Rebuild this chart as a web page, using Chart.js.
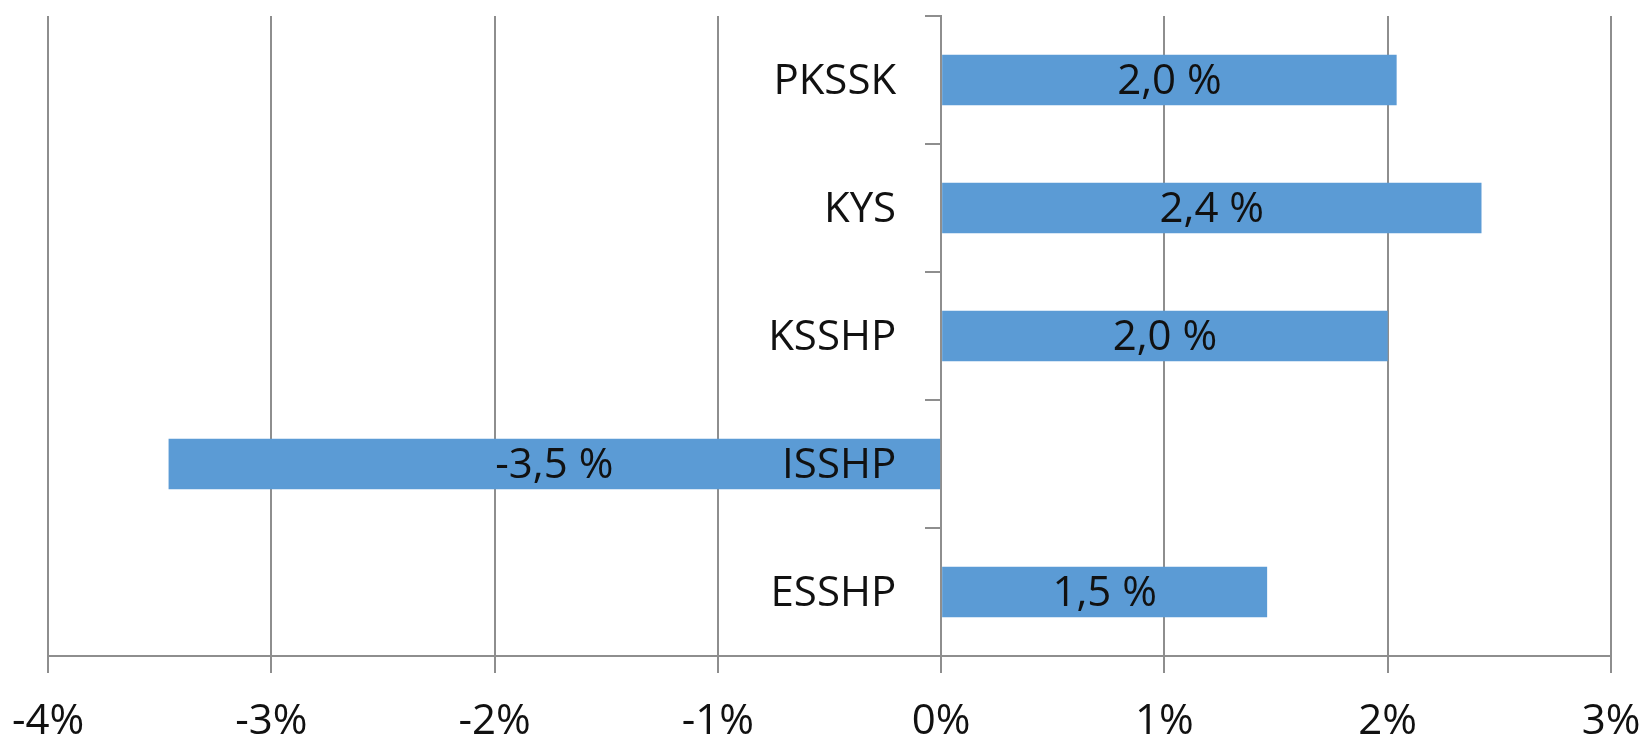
<!DOCTYPE html>
<html>
<head>
<meta charset="utf-8">
<script src="https://cdn.jsdelivr.net/npm/chart.js@4.4.1/dist/chart.umd.min.js"></script>
<style>
  html, body { margin: 0; padding: 0; background: #fff; }
  canvas { display: block; }
</style>
</head>
<body>
<canvas id="chart" width="1649" height="739"></canvas>
<script>
        const categories = ['PKSSK', 'KYS', 'KSSHP', 'ISSHP', 'ESSHP'];
        const values = [2.04, 2.42, 2.0, -3.46, 1.46];
        const xMin = -4;
        const xMax = 3;

        const fontFamily = "'Open Sans', sans-serif";
        const gridColor = '#8e8e8e';

        // category names left of the zero line (drawn over the bars)
        // and value labels in the middle of each bar, like "2,0 %"
        const barLabels = {
            id: 'barLabels',
            afterDatasetsDraw(chart) {
                const ctx = chart.ctx;
                const xScale = chart.scales.x;
                const yScale = chart.scales.y;
                const meta = chart.getDatasetMeta(0);
                const zeroX = xScale.getPixelForValue(0);
                ctx.save();
                ctx.font = '42px ' + fontFamily;
                ctx.fillStyle = '#111';
                ctx.textBaseline = 'middle';

                ctx.textAlign = 'right';
                categories.forEach((name, i) => {
                    ctx.fillText(name, zeroX - 45, yScale.getPixelForTick(i) + 2);
                });

                ctx.textAlign = 'center';
                meta.data.forEach((bar, i) => {
                    const text = values[i].toFixed(1).replace('.', ',') + ' %';
                    const cx = (bar.x + bar.base) / 2;
                    ctx.fillText(text, cx, bar.y + 2);
                });
                ctx.restore();
            }
        };

        const chart = new Chart(document.getElementById('chart'), {
            type: 'bar',
            data: {
                labels: categories,
                datasets: [{
                    data: values,
                    backgroundColor: '#5b9bd5',
                    borderWidth: 0,
                    barPercentage: 0.395,
                    categoryPercentage: 1
                }]
            },
            options: {
                indexAxis: 'y',
                responsive: false,
                animation: false,
                layout: {
                    padding: { left: 48, right: 38, top: 16, bottom: 0 }
                },
                plugins: {
                    legend: { display: false },
                    tooltip: { enabled: false }
                },
                scales: {
                    x: {
                        type: 'linear',
                        min: xMin,
                        max: xMax,
                        z: 0,
                        ticks: {
                            stepSize: 1,
                            padding: 24,
                            color: '#111',
                            font: { family: fontFamily, size: 42 },
                            callback: v => v + '%'
                        },
                        grid: {
                            color: gridColor,
                            lineWidth: 2,
                            tickLength: 17,
                            tickColor: gridColor
                        },
                        border: { color: gridColor, width: 2 },
                        afterFit: s => {
                            s.paddingLeft = 0;
                            s.paddingRight = 0;
                            s.height = 83;
                        }
                    },
                    y: {
                        position: { x: 0 },
                        z: 1,
                        ticks: {
                            color: 'rgba(0,0,0,0)',
                            font: { family: fontFamily, size: 42 }
                        },
                        grid: {
                            drawOnChartArea: false,
                            color: gridColor,
                            lineWidth: 2,
                            tickLength: 15
                        },
                        border: { color: gridColor, width: 2 },
                        afterFit: s => {
                            s.paddingTop = 0;
                            s.paddingBottom = 0;
                        }
                    }
                }
            },
            plugins: [barLabels]
        });
</script>
</body>
</html>
